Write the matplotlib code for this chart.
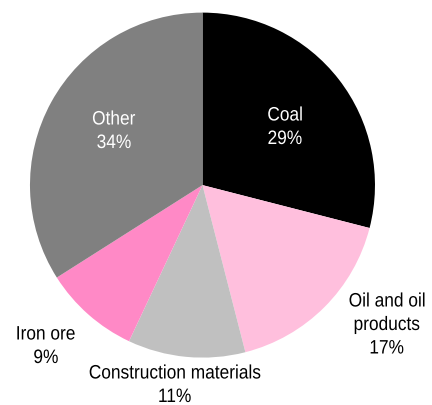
import numpy as np
import matplotlib.pyplot as plt
from matplotlib.textpath import TextPath
from matplotlib.patches import PathPatch
from matplotlib.font_manager import FontProperties
from matplotlib.transforms import Affine2D, IdentityTransform

# Shares by commodity
labels = ["Coal", "Oil and oil\nproducts", "Construction materials", "Iron ore", "Other"]
shares = [29, 17, 11, 9, 34]
colors = ["#000000", "#FFBFDD", "#C0C0C0", "#FF89C6", "#808080"]

W, H, DPI = 432, 405, 100
fig = plt.figure(figsize=(W / DPI, H / DPI), dpi=DPI)
ax = fig.add_axes([0.0694, 0.117, 345 / W, 345 / H])
wedges, _ = ax.pie(shares, colors=colors, startangle=90, counterclock=False,
                   radius=1, wedgeprops=dict(linewidth=0))
ax.set_xlim(-1, 1)
ax.set_ylim(-1, 1)
ax.set_aspect("equal")
ax.axis("off")

prop = FontProperties(family="Liberation Sans")
FS = 14        # font size, points
SX = 0.89      # horizontal squeeze, narrow look
PITCH = 23.5   # line pitch, pixels


def narrow_text(cx, top_base, text, color):
    """Centered multi-line text in pixel coords (y from top), condensed."""
    k = DPI / 72
    for i, line in enumerate(text.split("\n")):
        tp = TextPath((0, 0), line, size=FS, prop=prop)
        ext = tp.get_extents()
        w = (ext.x0 + ext.x1) / 2
        base = top_base + i * PITCH
        tr = (Affine2D().translate(-w, 0).scale(SX * k, k)
              .translate(cx, H - base))
        fig.patches.append(PathPatch(tp, transform=tr + IdentityTransform(),
                                     facecolor=color, edgecolor="none",
                                     figure=fig))


# label centres (x) and first baseline (y from top), pixels
lab_x = [285, 387, 175, 46, 114]
lab_y = [120.5, 306.5, 378.5, 339.5, 124.5]
txtcol = ["white", "black", "black", "black", "white"]
for lab, s, x, y, c in zip(labels, shares, lab_x, lab_y, txtcol):
    narrow_text(x, y, f"{lab}\n{s}%", c)

fig.savefig("out.png", dpi=DPI)
